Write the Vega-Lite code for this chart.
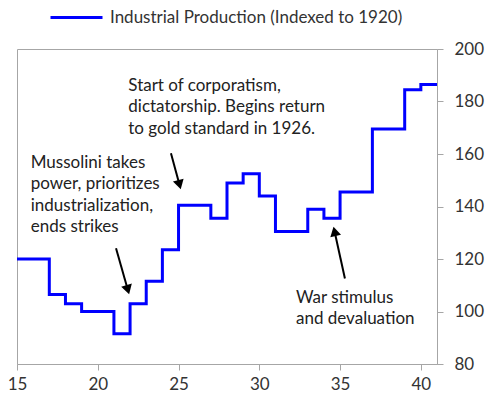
{
  "$schema": "https://vega.github.io/schema/vega-lite/v6.json",
  "width": 420,
  "height": 315,
  "autosize": "none",
  "padding": {"left": 17, "top": 49, "right": 51, "bottom": 38},
  "background": "white",
  "config": {
    "font": "Lato",
    "view": {"stroke": "#a6a6a6", "strokeWidth": 1},
    "axis": {
      "grid": false,
      "domainColor": "#a6a6a6",
      "tickColor": "#a6a6a6",
      "tickSize": 6,
      "labelFont": "Lato",
      "labelFontSize": 17,
      "labelColor": "#333333",
      "title": null
    }
  },
  "datasets": {
    "prod": [
      {"year": 15, "value": 120},
      {"year": 16, "value": 120},
      {"year": 17, "value": 106.5},
      {"year": 18, "value": 103},
      {"year": 19, "value": 100},
      {"year": 20, "value": 100},
      {"year": 21, "value": 91.5},
      {"year": 22, "value": 103},
      {"year": 23, "value": 111.5},
      {"year": 24, "value": 123.5},
      {"year": 25, "value": 140.5},
      {"year": 26, "value": 140.5},
      {"year": 27, "value": 135.5},
      {"year": 28, "value": 149},
      {"year": 29, "value": 152.5},
      {"year": 30, "value": 144},
      {"year": 31, "value": 130.5},
      {"year": 32, "value": 130.5},
      {"year": 33, "value": 139},
      {"year": 34, "value": 135.5},
      {"year": 35, "value": 145.5},
      {"year": 36, "value": 145.5},
      {"year": 37, "value": 169.5},
      {"year": 38, "value": 169.5},
      {"year": 39, "value": 184.5},
      {"year": 40, "value": 186.5},
      {"year": 41, "value": 186.5}
    ],
    "arrows": [
      {"id": "corp", "x": 24.53, "y": 160.3, "x2": 25.06, "y2": 148.3},
      {"id": "muss", "x": 21.13, "y": 124.1, "x2": 21.86, "y2": 108.3},
      {"id": "war", "x": 35.3, "y": 112.6, "x2": 34.66, "y2": 130.5}
    ],
    "notes": [
      {"x": 21.89, "y": 184.1, "text": ["Start of corporatism,", "dictatorship. Begins return", "to gold standard in 1926."]},
      {"x": 15.85, "y": 154.7, "text": ["Mussolini takes", "power, prioritizes", "industrialization,", "ends strikes"]},
      {"x": 32.27, "y": 103.35, "text": ["War stimulus", "and devaluation"]}
    ]
  },
  "layer": [
    {
      "data": {"name": "prod"},
      "mark": {"type": "line", "interpolate": "step-after", "strokeWidth": 3},
      "encoding": {
        "x": {
          "field": "year", "type": "quantitative",
          "scale": {"domain": [15, 41], "nice": false, "zero": false},
          "axis": {"values": [15, 20, 25, 30, 35, 40], "labelPadding": 6, "labelFlush": false}
        },
        "y": {
          "field": "value", "type": "quantitative",
          "scale": {"domain": [80, 200], "nice": false, "zero": false},
          "axis": {"orient": "right", "values": [80, 100, 120, 140, 160, 180, 200], "labelPadding": 11}
        },
        "color": {
          "datum": "Industrial Production (Indexed to 1920)",
          "type": "nominal",
          "scale": {"range": ["#0000ff"]},
          "legend": {
            "orient": "none",
            "legendX": 32,
            "legendY": -59,
            "title": null,
            "padding": 0,
            "symbolType": "stroke",
            "symbolSize": 2704,
            "symbolStrokeWidth": 3,
            "labelFontSize": 17,
            "labelColor": "#333333",
            "labelFont": "Lato",
            "labelOffset": 6,
            "labelLimit": 500
          }
        }
      }
    },
    {
      "data": {"name": "arrows"},
      "mark": {"type": "rule", "color": "black", "strokeWidth": 2},
      "encoding": {
        "x": {"field": "x", "type": "quantitative"},
        "y": {"field": "y", "type": "quantitative"},
        "x2": {"field": "x2"},
        "y2": {"field": "y2"}
      }
    },
    {
      "data": {"name": "arrows"},
      "transform": [{"filter": "datum.id === 'corp'"}],
      "mark": {"type": "point", "shape": "triangle-up", "filled": true, "color": "black", "opacity": 1, "size": 121, "angle": 165},
      "encoding": {
        "x": {"field": "x2", "type": "quantitative"},
        "y": {"field": "y2", "type": "quantitative"}
      }
    },
    {
      "data": {"name": "arrows"},
      "transform": [{"filter": "datum.id === 'muss'"}],
      "mark": {"type": "point", "shape": "triangle-up", "filled": true, "color": "black", "opacity": 1, "size": 121, "angle": 164},
      "encoding": {
        "x": {"field": "x2", "type": "quantitative"},
        "y": {"field": "y2", "type": "quantitative"}
      }
    },
    {
      "data": {"name": "arrows"},
      "transform": [{"filter": "datum.id === 'war'"}],
      "mark": {"type": "point", "shape": "triangle-up", "filled": true, "color": "black", "opacity": 1, "size": 121, "angle": 347},
      "encoding": {
        "x": {"field": "x2", "type": "quantitative"},
        "y": {"field": "y2", "type": "quantitative"}
      }
    },
    {
      "data": {"name": "notes"},
      "mark": {"type": "text", "align": "left", "baseline": "alphabetic", "fontSize": 17, "lineHeight": 21.5, "color": "#222222", "font": "Lato"},
      "encoding": {
        "x": {"field": "x", "type": "quantitative"},
        "y": {"field": "y", "type": "quantitative"},
        "text": {"field": "text"}
      }
    }
  ]
}
